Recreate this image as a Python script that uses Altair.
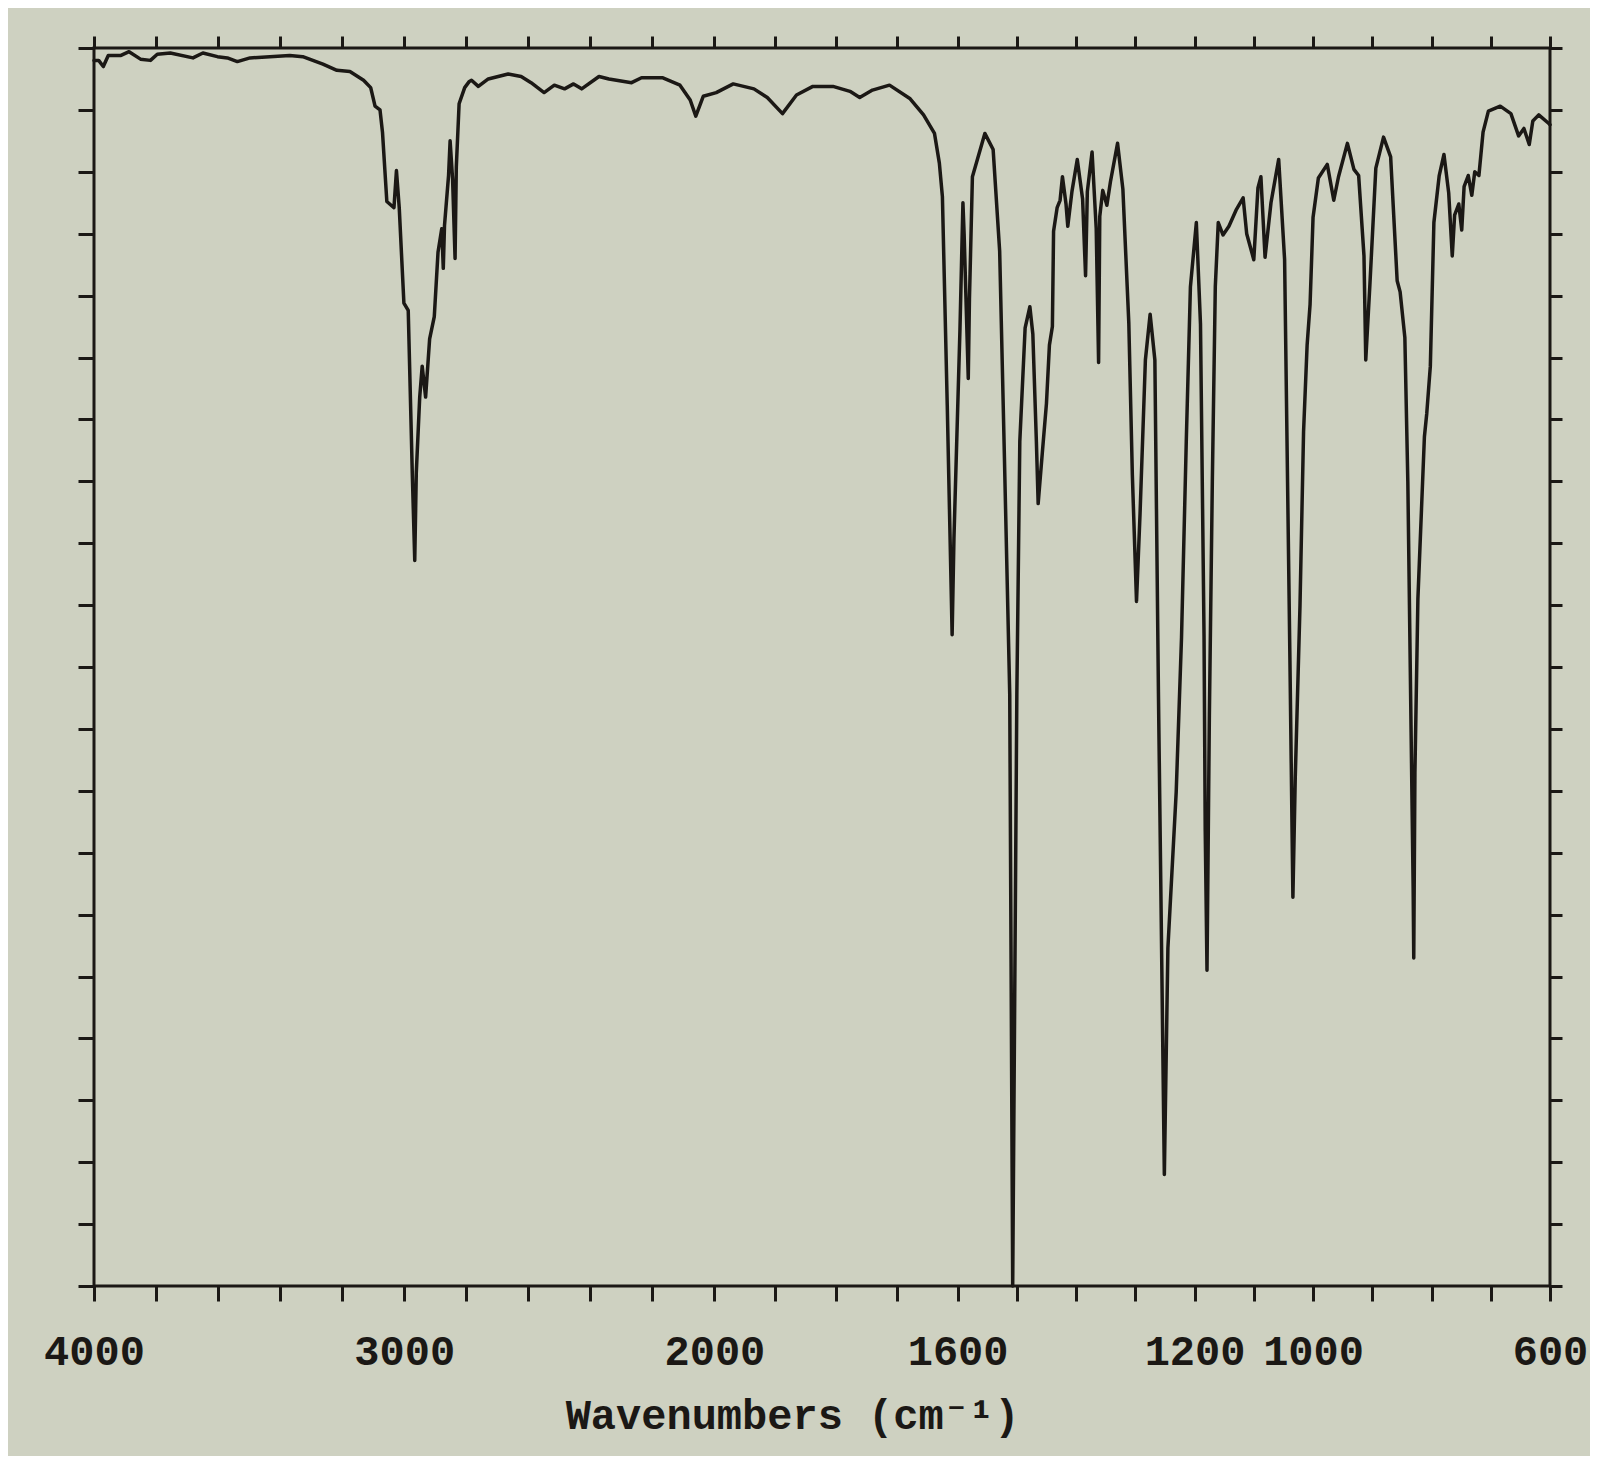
import altair as alt
import pandas as pd

# Spectrum (wavenumber in cm-1, transmittance in %)
wavenumber = [
    4000, 3985, 3970, 3954, 3913, 3887, 3850, 3818, 3796, 3754, 3681, 3649, 3602, 3570, 3538,
    3497, 3433, 3369, 3327, 3262, 3217, 3175, 3131, 3108, 3094, 3078, 3070, 3056, 3033, 3025,
    3016, 3001, 2987, 2974, 2966, 2961, 2950, 2942, 2931, 2918, 2903, 2891, 2879, 2874, 2870,
    2857, 2852, 2844, 2836, 2832, 2823, 2805, 2790, 2783, 2761, 2729, 2665, 2623, 2591, 2549,
    2516, 2483, 2454, 2428, 2372, 2340, 2267, 2235, 2168, 2111, 2078, 2060, 2036, 1997, 1969,
    1935, 1913, 1888, 1865, 1838, 1805, 1777, 1761, 1740, 1712, 1678, 1656, 1638, 1630, 1625,
    1617, 1609, 1606, 1596, 1591, 1589, 1582, 1580, 1575, 1554, 1540, 1529, 1521, 1512, 1507,
    1500, 1495, 1486, 1478, 1473, 1467, 1464, 1457, 1450, 1445, 1440, 1438, 1432, 1427, 1423,
    1417, 1414, 1407, 1398, 1389, 1384, 1381, 1373, 1366, 1362, 1360, 1355, 1348, 1342, 1330,
    1321, 1311, 1305, 1298, 1292, 1283, 1275, 1267, 1261, 1251, 1245, 1231, 1222, 1214, 1207,
    1197, 1190, 1184, 1182, 1179, 1175, 1170, 1165, 1160, 1152, 1142, 1130, 1118, 1112, 1100,
    1093, 1088, 1081, 1071, 1058, 1048, 1039, 1034, 1030, 1022, 1016, 1010, 1005, 1000, 991,
    976, 965, 957, 942, 931, 923, 914, 911, 904, 894, 881, 869, 858, 853, 845,
    840, 831, 830, 828, 823, 812, 808, 802, 796, 787, 779, 771, 765, 761, 754,
    749, 745, 738, 732, 727, 720, 713, 704, 684, 666, 653, 644, 635, 629, 619,
    602, 600,
]
transmittance = [
    99.0, 99.0, 98.5, 99.4, 99.4, 99.7, 99.1, 99.0, 99.5, 99.6, 99.2, 99.6, 99.3, 99.2, 98.9,
    99.2, 99.3, 99.4, 99.3, 98.7, 98.2, 98.1, 97.4, 96.8, 95.3, 95.0, 93.2, 87.6, 87.1, 90.1,
    87.1, 79.4, 78.8, 65.7, 58.6, 65.7, 71.8, 74.3, 71.8, 76.5, 78.3, 83.5, 85.4, 82.2, 85.7,
    89.7, 92.5, 89.4, 83.0, 90.4, 95.5, 96.8, 97.3, 97.4, 96.9, 97.5, 97.9, 97.7, 97.2, 96.4,
    97.0, 96.7, 97.1, 96.7, 97.7, 97.5, 97.2, 97.6, 97.6, 97.0, 95.8, 94.5, 96.1, 96.4, 97.1,
    96.7, 96.0, 94.7, 96.2, 96.9, 96.9, 96.5, 96.0, 96.6, 97.0, 95.9, 94.6, 93.1, 90.7, 88.0,
    71.1, 52.6, 60.4, 77.3, 87.5, 85.0, 73.3, 79.7, 89.6, 93.1, 91.8, 83.6, 67.0, 47.8, 0.0,
    47.8, 68.2, 77.4, 79.1, 76.9, 68.2, 63.2, 67.3, 71.3, 76.0, 77.5, 85.2, 87.1, 87.7, 89.6,
    87.4, 85.6, 88.4, 91.0, 87.8, 81.6, 88.4, 91.6, 85.4, 74.6, 86.4, 88.5, 87.3, 89.2, 92.3,
    88.6, 77.8, 65.5, 55.3, 62.4, 74.8, 78.5, 74.8, 48.0, 9.0, 27.3, 39.9, 52.4, 68.2, 80.7,
    85.9, 77.7, 52.5, 36.8, 25.5, 46.1, 65.0, 80.7, 85.9, 84.9, 85.6, 86.9, 87.9, 85.0, 82.9,
    88.7, 89.6, 83.1, 87.5, 91.0, 82.9, 50.5, 31.4, 41.1, 55.0, 69.0, 76.0, 79.3, 86.3, 89.5,
    90.6, 87.7, 89.6, 92.3, 90.2, 89.7, 83.2, 74.8, 80.9, 90.3, 92.8, 91.2, 81.2, 80.3, 76.6,
    65.0, 32.1, 26.5, 41.5, 55.5, 68.6, 70.5, 74.3, 85.9, 89.7, 91.4, 88.3, 83.2, 86.5, 87.4,
    85.3, 88.8, 89.7, 88.1, 90.0, 89.7, 93.2, 94.9, 95.3, 94.7, 92.9, 93.5, 92.2, 94.1, 94.6,
    93.9, 93.8,
]

x_ticks = [4000, 3800, 3600, 3400, 3200, 3000, 2800, 2600, 2400, 2200, 2000,
           1900, 1800, 1700, 1600, 1500, 1400, 1300, 1200, 1100, 1000, 900, 800, 700, 600]
x_labels = [4000, 3000, 2000, 1600, 1200, 1000, 600]
y_ticks = list(range(0, 101, 5))

df = pd.DataFrame({"wn": wavenumber, "T": transmittance, "i": list(range(len(wavenumber)))})

W, H = 1456, 1238
ink = "#1b1815"
font = "Liberation Mono, DejaVu Sans Mono, monospace"

# chart paper: compressed scale above 2000 cm-1, slightly uneven spacing below
xscale = alt.Scale(domain=[4000, 2000, 1600, 600], range=[0, 620.4, 863.6, W],
                   nice=False, zero=False)
yscale = alt.Scale(domain=[0, 100], nice=False, zero=False)

label_expr = "indexof(" + str(x_labels) + ", datum.value) >= 0 ? datum.label : ''"

base = alt.Chart(df)

main = base.mark_line(color=ink, strokeWidth=3.5, strokeJoin="round", strokeCap="round").encode(
    x=alt.X("wn:Q", scale=xscale, axis=alt.Axis(
        orient="bottom", values=x_ticks, format="d", labelExpr=label_expr,
        domain=False, grid=False, ticks=True, tickSize=15, tickWidth=3, tickColor=ink,
        labelFont=font, labelFontSize=42, labelFontWeight="bold", labelColor=ink,
        labelPadding=30, labelFlush=False, labelOverlap=False,
        title="Wavenumbers (cm\u207b\u00b9)", titleFont=font, titleFontSize=42,
        titleFontWeight="bold", titleColor=ink, titleX=698, titleY=142,
        titleAlign="center", titleBaseline="alphabetic")),
    y=alt.Y("T:Q", scale=yscale, axis=alt.Axis(
        orient="left", values=y_ticks, labels=False, domain=False, grid=False,
        tickSize=16, tickWidth=3, tickColor=ink, title=None)),
    order=alt.Order("i:Q"),
)

ghost = base.mark_line(strokeOpacity=0).encode(
    x=alt.X("wn:Q", scale=xscale, axis=alt.Axis(
        orient="top", values=x_ticks, labels=False, domain=False, grid=False,
        tickSize=12, tickWidth=3, tickColor=ink, title=None)),
    y=alt.Y("T:Q", scale=yscale, axis=alt.Axis(
        orient="right", values=y_ticks, labels=False, domain=False, grid=False,
        tickSize=12, tickWidth=3, tickColor=ink, title=None)),
    order=alt.Order("i:Q"),
)

chart = alt.layer(main, ghost).resolve_axis(x="independent", y="independent").properties(
    width=W, height=H, background="#ced1c1",
    padding={"left": 86, "top": 40, "right": 40, "bottom": 170},
    autosize=alt.AutoSizeParams(type="none"),
).configure_view(stroke=ink, strokeWidth=3)

chart.save("out.html", embed_options={"renderer": "svg", "actions": False})
